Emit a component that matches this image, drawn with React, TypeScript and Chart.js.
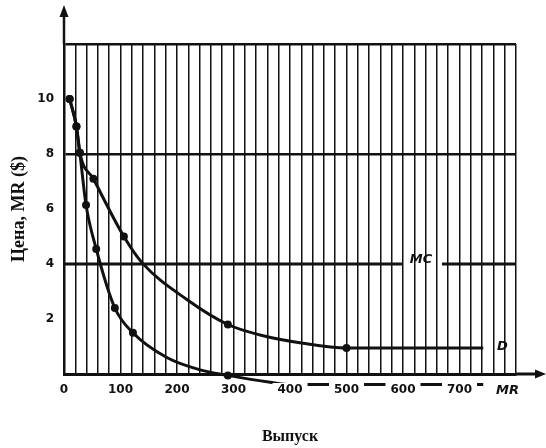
import React, { useEffect, useRef } from 'react';
import { Chart, registerables } from 'chart.js';

Chart.register(...registerables);

// Demand curve D (output, price)
const dOutput = [10, 22, 28, 52, 106, 138, 218, 290, 347, 423, 500, 742];
const dPrice = [10, 9, 8.05, 7.1, 5, 4.05, 2.7, 1.8, 1.42, 1.12, 0.95, 0.95];
const dDots = [1, 1, 1, 1, 1, 0, 0, 1, 0, 0, 1, 0];

// Marginal revenue curve MR
const mrOutput = [10, 22, 28, 39, 57, 90, 122, 182, 241, 290, 365, 400, 742];
const mrValue = [10, 9, 8.05, 6.15, 4.55, 2.4, 1.5, 0.6, 0.15, -0.05, -0.3, -0.38, -0.38];
const mrDots = [1, 1, 1, 1, 1, 1, 1, 0, 0, 1, 0, 0, 0];

// Marginal cost MC (constant), with a gap for its label
const mcOutput = [0, 598, 630, 669, 800];
const mcValue: (number | null)[] = [4, 4, null, 4, 4];

// Axis ticks
const xTickLabels = [0, 100, 200, 300, 400, 500, 600, 700];
const yTickLabels = [2, 4, 6, 8, 10];
const yGridLines = [8, 12];

const INK = '#111';

const curveLabels = [
  { text: 'MC', x: 632, y: 4.15 },
  { text: 'D', x: 776, y: 0.98 },
  { text: 'MR', x: 785, y: -0.6 },
];

const decorPlugin = {
  id: 'decor',
  afterDraw(chart: any) {
    const { ctx, chartArea, scales } = chart;
    const x0 = chartArea.left;
    const yb = chartArea.bottom;
    ctx.save();
    ctx.strokeStyle = INK;
    ctx.fillStyle = INK;
    // y-axis extension with arrow
    ctx.lineWidth = 2.5;
    ctx.beginPath();
    ctx.moveTo(x0, chartArea.top);
    ctx.lineTo(x0, 14);
    ctx.stroke();
    ctx.beginPath();
    ctx.moveTo(x0, 5);
    ctx.lineTo(x0 - 4.5, 17);
    ctx.lineTo(x0 + 4.5, 17);
    ctx.closePath();
    ctx.fill();
    // x-axis extension with arrow
    ctx.lineWidth = 3;
    ctx.beginPath();
    ctx.moveTo(chartArea.right, yb);
    ctx.lineTo(538, yb);
    ctx.stroke();
    ctx.beginPath();
    ctx.moveTo(546, yb);
    ctx.lineTo(535, yb - 4.5);
    ctx.lineTo(535, yb + 4.5);
    ctx.closePath();
    ctx.fill();
    // curve labels
    ctx.font = 'italic bold 13px "DejaVu Sans"';
    ctx.textAlign = 'center';
    ctx.textBaseline = 'middle';
    for (const l of curveLabels) {
      ctx.fillText(l.text, scales.x.getPixelForValue(l.x), scales.y.getPixelForValue(l.y));
    }
    ctx.restore();
  },
};

export default function App() {
  const ref = useRef<HTMLCanvasElement | null>(null);

  useEffect(() => {
    if (!ref.current) return;
    const pts = (xs: number[], ys: (number | null)[]) => xs.map((x, i) => ({ x, y: ys[i] }));
    const chart = new Chart(ref.current, {
      type: 'line',
      data: {
        datasets: [
          {
            label: 'MC',
            data: pts(mcOutput, mcValue) as any,
            borderColor: INK,
            borderWidth: 3,
            pointRadius: 0,
            spanGaps: false,
            tension: 0,
          },
          {
            label: 'D',
            data: pts(dOutput, dPrice) as any,
            borderColor: INK,
            backgroundColor: INK,
            borderWidth: 3,
            pointRadius: dDots.map((d) => (d ? 4 : 0)),
            pointBorderWidth: 0,
            cubicInterpolationMode: 'monotone',
            clip: false as any,
          },
          {
            label: 'MR',
            data: pts(mrOutput, mrValue) as any,
            borderColor: INK,
            backgroundColor: INK,
            borderWidth: 3,
            pointRadius: mrDots.map((d) => (d ? 4 : 0)),
            pointBorderWidth: 0,
            cubicInterpolationMode: 'monotone',
            clip: false as any,
          },
        ],
      },
      options: {
        responsive: false,
        animation: false,
        events: [],
        layout: { padding: { left: 9, top: 44, right: 30, bottom: 2 } },
        plugins: { legend: { display: false }, tooltip: { enabled: false } },
        scales: {
          x: {
            type: 'linear',
            min: 0,
            max: 800,
            afterFit: (s: any) => {
              s.height = 72;
            },
            grid: { color: INK, lineWidth: 1.5, drawTicks: false },
            border: { color: INK, width: 3 },
            ticks: {
              stepSize: 20,
              autoSkip: false,
              maxRotation: 0,
              padding: 9,
              color: INK,
              font: { family: 'DejaVu Sans', size: 12, weight: 'bold' },
              callback: (v: any) => (xTickLabels.includes(Number(v)) ? String(v) : ''),
              z: 1,
              showLabelBackdrop: (c: any) => !!(c.tick && c.tick.label) && Number(c.tick.value) >= 400,
              backdropColor: '#fff',
              backdropPadding: { left: 5, right: 5, top: 0, bottom: 0 },
            } as any,
            title: {
              display: true,
              text: 'Выпуск',
              color: INK,
              font: { family: 'Liberation Serif', size: 16, weight: 'bold' },
              padding: { top: 0, bottom: 0 },
            },
          },
          y: {
            type: 'linear',
            min: 0,
            max: 12,
            afterFit: (s: any) => {
              s.width = 55;
            },
            grid: {
              drawTicks: false,
              color: (c: any) => (yGridLines.includes(c.tick?.value) ? INK : 'rgba(0,0,0,0)'),
              lineWidth: 2.5,
            },
            border: { color: INK, width: 2.5 },
            ticks: {
              stepSize: 2,
              padding: 10,
              color: INK,
              font: { family: 'DejaVu Sans', size: 12, weight: 'bold' },
              callback: (v: any) => (yTickLabels.includes(Number(v)) ? String(v) : ''),
            },
            title: {
              display: true,
              text: 'Цена, MR ($)',
              color: INK,
              font: { family: 'Liberation Serif', size: 18, weight: 'bold' },
              padding: { top: 0, bottom: 0 },
            },
          },
        },
      },
      plugins: [decorPlugin],
    });
    return () => chart.destroy();
  }, []);

  return (
    <div style={{ position: 'absolute', left: 0, top: 0, width: 546, height: 448, background: '#fff' }}>
      <canvas ref={ref} width={546} height={448} style={{ display: 'block' }} />
    </div>
  );
}
